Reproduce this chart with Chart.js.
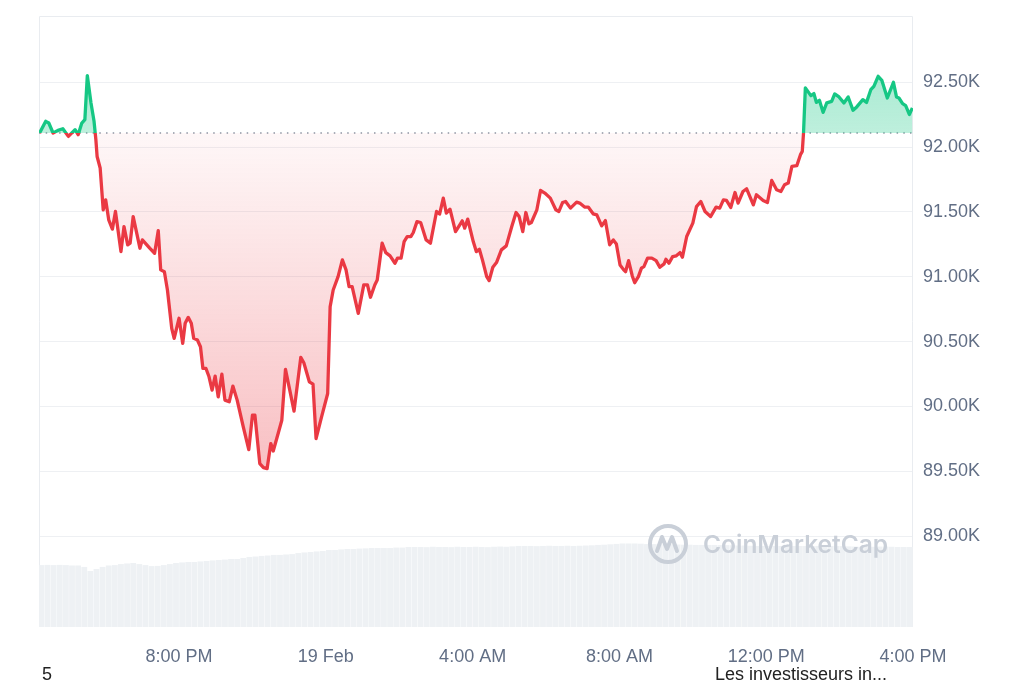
<!DOCTYPE html>
<html>
<head>
<meta charset="utf-8">
<script src="https://cdn.jsdelivr.net/npm/chart.js@4.4.1/dist/chart.umd.min.js"></script>
<style>
  html, body { margin: 0; padding: 0; background: #fff; }
  #wrap { position: relative; width: 1024px; height: 683px; overflow: hidden; }
  #chart { position: absolute; left: 0; top: 0; }
  .note { position: absolute; font-family: "Liberation Sans", Arial, sans-serif; font-size: 18px; color: #222; line-height: 20px; }
  #mark { position: absolute; left: 647px; top: 523px; display: flex; align-items: center; color: #c9cfd8;
          font-family: Inter, "Open Sans", sans-serif; font-weight: 600; font-size: 24.5px; }
  #mark svg { margin-right: 14px; }
</style>
</head>
<body>
<div id="wrap">
  <canvas id="chart" width="1024" height="683"></canvas>
  <div id="mark">
    <svg width="42" height="42" viewBox="0 0 42 42"><circle cx="21" cy="21" r="18" fill="none" stroke="#c9cfd8" stroke-width="4"/><path d="M10 28 L15 14 L20 26 L25 14 L30 28" fill="none" stroke="#c9cfd8" stroke-width="4" stroke-linejoin="round" stroke-linecap="round"/></svg>
    <span>CoinMarketCap</span>
  </div>
  <div class="note" style="left:42px; top:664px;">5</div>
  <div class="note" style="left:715px; top:664px;">Les investisseurs in...</div>
</div>
<script>
// Time axis: minutes after 4:00 PM on 18 Feb
const xMin = 11;
const xMax = 1440;
const xTickMinutes = [240, 480, 720, 960, 1200, 1440];
const xTickLabels = ['8:00 PM', '19 Feb', '4:00 AM', '8:00 AM', '12:00 PM', '4:00 PM'];

// Price axis (USD)
const yMin = 88300;
const yMax = 93010;
const yTicks = [89000, 89500, 90000, 90500, 91000, 91500, 92000, 92500];

// Price series
const priceMinutes = [
  12, 22, 27, 34, 42, 50, 59, 70, 75, 81,
  86, 90, 96, 101, 104, 106, 111, 116, 120, 125,
  131, 136, 145, 150, 156, 160, 165, 176, 180, 192,
  200, 206, 210, 216, 221, 228, 232, 240, 246, 250,
  255, 260, 264, 270, 275, 279, 284, 289, 294, 299,
  304, 310, 315, 322, 328, 335, 345, 354, 360, 364,
  372, 378, 384, 390, 394, 402, 408, 414, 421, 428,
  439, 444, 453, 459, 464, 473, 483, 487, 492, 500,
  507, 513, 518, 523, 533, 542, 548, 553, 560, 564,
  572, 578, 585, 593, 597, 603, 608, 613, 619, 623,
  629, 635, 644, 651, 661, 666, 672, 677, 683, 692,
  699, 703, 707, 712, 721, 726, 731, 736, 743, 747,
  753, 759, 767, 775, 784, 791, 796, 802, 807, 812,
  816, 825, 831, 838, 847, 856, 861, 867, 872, 880,
  890, 895, 903, 909, 917, 923, 931, 937, 944, 950,
  955, 961, 967, 970, 975, 981, 985, 991, 996, 1000,
  1006, 1013, 1020, 1026, 1033, 1036, 1041, 1047, 1053, 1059,
  1063, 1070, 1080, 1086, 1093, 1100, 1109, 1118, 1124, 1130,
  1135, 1142, 1149, 1154, 1162, 1168, 1179, 1184, 1195, 1202,
  1209, 1217, 1224, 1230, 1236, 1242, 1250, 1256, 1259, 1261,
  1264, 1273, 1278, 1282, 1287, 1293, 1299, 1307, 1312, 1319,
  1327, 1334, 1342, 1348, 1358, 1364, 1371, 1376, 1383, 1389,
  1398, 1408, 1413, 1417, 1423, 1428, 1434, 1439
];
const prices = [
  92108, 92198, 92185, 92108, 92128, 92141, 92082, 92134, 92095, 92185,
  92211, 92551, 92340, 92198, 92056, 91927, 91838, 91516, 91593, 91439,
  91367, 91503, 91194, 91387, 91246, 91259, 91464, 91220, 91284, 91220,
  91181, 91356, 91053, 91039, 90898, 90602, 90525, 90680, 90486, 90641,
  90687, 90641, 90525, 90512, 90460, 90293, 90293, 90229, 90126, 90234,
  90074, 90249, 90049, 90036, 90157, 90049, 89842, 89668, 89933, 89933,
  89560, 89529, 89521, 89714, 89657, 89792, 89894, 90286, 90126, 89964,
  90378, 90337, 90190, 90172, 89753, 89920, 90100, 90769, 90898, 91001,
  91130, 91053, 90924, 90924, 90718, 90937, 90937, 90842, 90937, 90975,
  91259, 91186, 91161, 91104, 91143, 91143, 91271, 91310, 91310, 91341,
  91425, 91418, 91284, 91259, 91503, 91483, 91606, 91490, 91521, 91348,
  91400, 91431, 91375, 91444, 91271, 91194, 91212, 91130, 91001, 90970,
  91073, 91109, 91207, 91238, 91387, 91495, 91464, 91348, 91495, 91408,
  91418, 91516, 91665, 91645, 91606, 91516, 91503, 91572, 91580, 91529,
  91575, 91568, 91537, 91537, 91485, 91477, 91392, 91433, 91246, 91284,
  91253, 91091, 91053, 91039, 91124, 91006, 90954, 91001, 91066, 91078,
  91143, 91143, 91124, 91073, 91099, 91135, 91104, 91155, 91161, 91186,
  91151, 91310, 91413, 91541, 91580, 91503, 91464, 91537, 91529, 91593,
  91588, 91534, 91649, 91568, 91657, 91678, 91554, 91632, 91588, 91572,
  91742, 91670, 91657, 91709, 91722, 91850, 91856, 91941, 91966, 92108,
  92456, 92396, 92412, 92344, 92360, 92267, 92340, 92352, 92409, 92386,
  92340, 92386, 92283, 92309, 92365, 92344, 92442, 92468, 92545, 92514,
  92378, 92499, 92386, 92378, 92334, 92319, 92251, 92301
];

// Volume bars, one every 10 minutes from 4:15 PM (billions USD)
const volumeStart = 15;
const volumeStep = 10;
const volumes = [
  30.4, 30.5, 30.4, 30.5, 30.4, 30.2, 30.2, 29.5, 27.5, 28.5,
  29.5, 30.2, 30.4, 30.9, 31.2, 31.4, 30.9, 30.4, 29.9, 30.0,
  30.4, 30.9, 31.4, 31.7, 31.9, 31.9, 32.2, 32.4, 32.7, 32.9,
  33.1, 33.4, 33.4, 33.9, 34.4, 34.6, 34.9, 35.1, 35.4, 35.4,
  35.6, 35.8, 36.3, 36.6, 36.8, 37.1, 37.3, 37.8, 37.8, 38.1,
  38.3, 38.3, 38.5, 38.6, 38.8, 38.8, 38.8, 38.8, 39.0, 39.0,
  39.3, 39.3, 39.3, 39.2, 39.4, 39.3, 39.3, 39.2, 39.4, 39.3,
  39.3, 39.4, 39.3, 39.2, 39.4, 39.5, 39.4, 39.6, 39.8, 39.8,
  39.8, 39.7, 39.8, 39.9, 39.8, 39.8, 39.9, 39.8, 39.9, 40.0,
  40.1, 40.3, 40.4, 40.6, 40.8, 41.0, 41.0, 41.0, 40.9, 40.7,
  40.7, 40.7, 40.6, 40.6, 40.5, 40.4, 40.4, 40.3, 40.3, 40.3,
  40.3, 40.2, 40.2, 40.1, 40.0, 40.0, 39.9, 39.8, 39.8, 39.8,
  39.8, 39.8, 39.9, 39.8, 39.8, 39.8, 39.7, 39.8, 39.8, 39.8,
  39.8, 39.7, 39.6, 39.5, 39.4, 39.3, 39.4, 39.5, 39.5, 39.4,
  39.3, 39.3, 39.3
];
const volumeMax = 300;

// Price 24h ago = reference line
const baseline = prices[0];

const green = '#16c784';
const red = '#ea3943';

// Build points
const pricePoints = priceMinutes.map((m, i) => ({ x: m, y: prices[i] }));
const volumePoints = volumes.map((v, i) => ({ x: volumeStart + i * volumeStep, y: v }));
const basePoints = [{ x: xMin, y: baseline }, { x: xMax, y: baseline }];

// Stroke: green above the reference line, red below
function lineGradient(context) {
    const chart = context.chart;
    const area = chart.chartArea;
    if (!area) return red;
    const yb = chart.scales.y.getPixelForValue(baseline);
    const f = Math.min(1, Math.max(0, (yb - area.top) / (area.bottom - area.top)));
    const g = chart.ctx.createLinearGradient(0, area.top, 0, area.bottom);
    g.addColorStop(0, green);
    g.addColorStop(f, green);
    g.addColorStop(f, red);
    g.addColorStop(1, red);
    return g;
}

// Fill between price and reference line
function fillGradient(context) {
    const chart = context.chart;
    const area = chart.chartArea;
    if (!area) return 'rgba(0,0,0,0)';
    const h = area.bottom - area.top;
    const yb = chart.scales.y.getPixelForValue(baseline);
    const ylow = chart.scales.y.getPixelForValue(89500);
    const f = (yb - area.top) / h;
    const fl = (ylow - area.top) / h;
    const g = chart.ctx.createLinearGradient(0, area.top, 0, area.bottom);
    g.addColorStop(0, 'rgba(22,199,132,0.45)');
    g.addColorStop(f, 'rgba(22,199,132,0.28)');
    g.addColorStop(f, 'rgba(234,57,67,0.04)');
    g.addColorStop(fl, 'rgba(234,57,67,0.32)');
    g.addColorStop(1, 'rgba(234,57,67,0.32)');
    return g;
}

// Light frame on top, left and right of the plot
const framePlugin = {
    id: 'frame',
    beforeDatasetsDraw(chart) {
        const { ctx, chartArea: a } = chart;
        ctx.save();
        ctx.strokeStyle = '#e9ecf0';
        ctx.lineWidth = 1;
        ctx.beginPath();
        ctx.moveTo(a.left + 0.5, a.bottom);
        ctx.lineTo(a.left + 0.5, a.top + 0.5);
        ctx.lineTo(a.right - 0.5, a.top + 0.5);
        ctx.lineTo(a.right - 0.5, a.bottom);
        ctx.stroke();
        ctx.restore();
    }
};

const labelFont = { family: '"Liberation Sans", Arial, sans-serif', size: 18 };

new Chart(document.getElementById('chart'), {
    type: 'line',
    data: {
        datasets: [
            {
                type: 'line',
                data: pricePoints,
                borderColor: lineGradient,
                backgroundColor: fillGradient,
                borderWidth: 3.3,
                pointRadius: 0,
                tension: 0,
                borderJoinStyle: 'round',
                fill: { target: { value: baseline } },
                order: 0
            },
            {
                type: 'line',
                data: basePoints,
                borderColor: '#8d96a4',
                borderWidth: 1.5,
                borderDash: [1.5, 5.2],
                pointRadius: 0,
                fill: false,
                order: 1
            },
            {
                type: 'bar',
                data: volumePoints,
                yAxisID: 'yv',
                backgroundColor: '#eef1f4',
                borderWidth: 0,
                barPercentage: 0.95,
                categoryPercentage: 1,
                order: 2
            }
        ]
    },
    options: {
        responsive: false,
        animation: false,
        devicePixelRatio: 1,
        layout: { padding: { left: 39, top: 16, right: 0, bottom: 0 } },
        plugins: { legend: { display: false }, tooltip: { enabled: false } },
        scales: {
            x: {
                type: 'linear',
                min: xMin,
                max: xMax,
                offset: false,
                grid: { display: false, drawTicks: false },
                border: { display: false },
                afterBuildTicks: (s) => { s.ticks = xTickMinutes.map(v => ({ value: v })); },
                afterFit: (s) => { s.height = 56; s.paddingLeft = 0; s.paddingRight = 0; },
                ticks: {
                    autoSkip: false,
                    maxRotation: 0,
                    padding: 19,
                    color: '#616e85',
                    font: labelFont,
                    callback: (v) => xTickLabels[xTickMinutes.indexOf(v)]
                }
            },
            y: {
                position: 'right',
                min: yMin,
                max: yMax,
                grid: { color: '#eef0f3', lineWidth: 1, drawTicks: false },
                border: { display: false },
                afterBuildTicks: (s) => { s.ticks = yTicks.map(v => ({ value: v })); },
                afterFit: (s) => { s.width = 111; s.paddingTop = 0; s.paddingBottom = 0; },
                ticks: {
                    padding: 10,
                    color: '#616e85',
                    font: labelFont,
                    callback: (v) => (v / 1000).toFixed(2) + 'K'
                }
            },
            yv: {
                display: false,
                min: 0,
                max: volumeMax
            }
        }
    },
    plugins: [framePlugin]
});
</script>
</body>
</html>
